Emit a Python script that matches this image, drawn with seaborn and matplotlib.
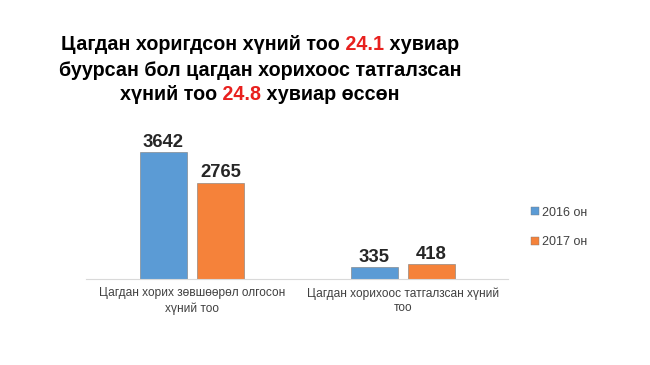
import matplotlib
matplotlib.use("Agg")
import matplotlib.pyplot as plt
from matplotlib.patches import Patch
import seaborn as sns
import pandas as pd

categories = ["Цагдан хорих зөвшөөрөл олгосон\nхүний тоо",
              "Цагдан хорихоос татгалзсан хүний\nтоо"]
years = ["2016 он", "2017 он"]
values_2016 = [3642, 335]
values_2017 = [2765, 418]
colors = ["#5B9BD5", "#F5823A"]

title_lines = [
    [("Цагдан хоригдсон хүний тоо", "black"), (" 24.1", "#E8201E"), (" хувиар", "black")],
    [("буурсан бол цагдан хорихоос татгалзсан", "black")],
    [("хүний тоо", "black"), (" 24.8", "#E8201E"), (" хувиар өссөн", "black")],
]

df = pd.DataFrame({
    "category": categories * 2,
    "year": [years[0]] * 2 + [years[1]] * 2,
    "value": values_2016 + values_2017,
})

sns.set_style("white")
plt.rcParams["font.family"] = ["Liberation Sans", "DejaVu Sans"]

fig = plt.figure(figsize=(6.5, 3.65), dpi=100)
ax = fig.add_axes([0.133, 0.236, 0.649, 0.381])

sns.barplot(data=df, x="category", y="value", hue="year", palette=colors,
            saturation=1, width=0.54, gap=0.18, edgecolor="#7a7a7a",
            linewidth=0.4, legend=False, ax=ax)

for cont in ax.containers:
    ax.bar_label(cont, fmt="%d", fontsize=13.3, fontweight="bold",
                 padding=1, family=["Liberation Sans", "DejaVu Sans"])

ax.set_ylim(0, 4000)
ax.set_xlim(-0.5, 1.5)
ax.set_xlabel("")
ax.set_ylabel("")
ax.set_yticks([])
for s in ["top", "left", "right"]:
    ax.spines[s].set_visible(False)
ax.spines["bottom"].set_color("#d9d9d9")
ax.spines["bottom"].set_linewidth(0.8)
ax.tick_params(axis="x", length=0, pad=6, labelsize=8.6, labelcolor="#404040")
for lab in ax.get_xticklabels():
    lab.set_linespacing(1.3)

handles = [Patch(facecolor=c, edgecolor="#7a7a7a", linewidth=0.3) for c in colors]
fig.legend(handles, years, loc="center left", bbox_to_anchor=(0.8, 0.377),
           frameon=False, fontsize=9, labelcolor="#404040",
           handlelength=0.6, handleheight=0.6, handletextpad=0.25,
           labelspacing=1.4)

# title with red numbers, drawn segment by segment
renderer = fig.canvas.get_renderer()
title_font = dict(fontsize=14.2, fontweight="bold",
                  family=["Liberation Sans Narrow", "Liberation Sans", "DejaVu Sans"])
center_x = 260 / 650
line_y = [45, 70, 95]
for segs, yp in zip(title_lines, line_y):
    texts = []
    for s, c in segs:
        t = fig.text(0, 1 - yp / 365, s, color=c, va="center", ha="left", **title_font)
        texts.append(t)
    widths = [t.get_window_extent(renderer).width / fig.bbox.width for t in texts]
    x = center_x - sum(widths) / 2
    for t, w in zip(texts, widths):
        t.set_x(x)
        x += w

fig.savefig("out.png", dpi=100, facecolor="white")
